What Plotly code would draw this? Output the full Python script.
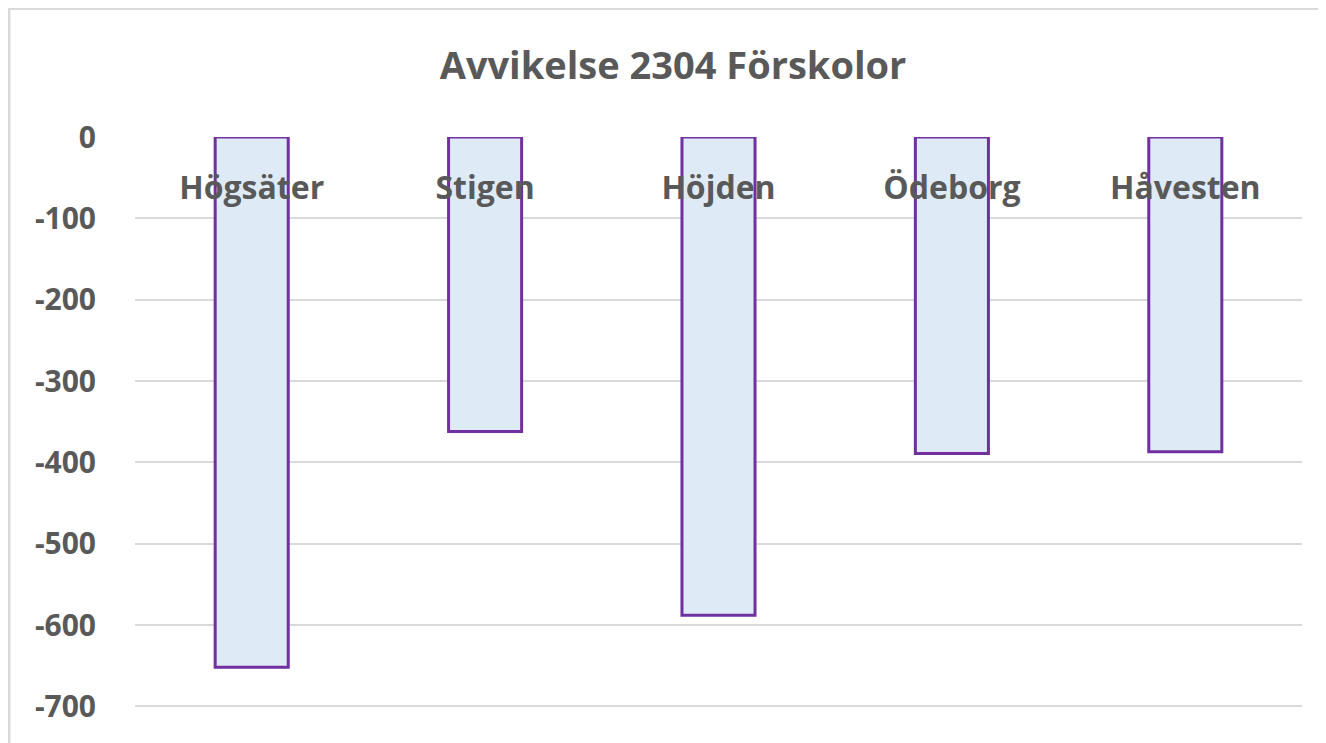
import plotly.graph_objects as go

categories = ["Högsäter", "Stigen", "Höjden", "Ödeborg", "Håvesten"]
values = [-652, -362, -588, -389, -387]
y_ticks = [0, -100, -200, -300, -400, -500, -600, -700]
y_tick_labels = ["0", "-100", "-200", "-300", "-400", "-500", "-600", "-700"]
title_text = "Avvikelse 2304 Förskolor"

# the page body has an 8px margin; the figure starts at (8, 8) in the window
OFF = 8
W, H = 1326 - OFF, 743 - OFF
L, R, T, B = 135 - OFF, 24, 137 - OFF, 0
pw, ph = W - L - R, H - T - B

FONT = "Open Sans"
GRAY = "#595959"

fig = go.Figure()
fig.add_trace(go.Bar(
    x=categories, y=values,
    marker=dict(color="#deebf7", line=dict(color="#7030a0", width=3)),
    width=0.313,
))

fig.update_layout(
    width=W, height=H,
    margin=dict(l=L, r=R, t=T, b=B, pad=0),
    paper_bgcolor="white", plot_bgcolor="white",
    showlegend=False,
    title=dict(text="<b>" + title_text + "</b>", x=(673 - OFF) / W, xanchor="center", xref="container",
               y=1 - (66 - OFF) / H, yanchor="middle", yref="container",
               font=dict(family=FONT, size=38, color=GRAY)),
    xaxis=dict(
        anchor="free", position=1, side="bottom",
        showgrid=False, showline=False, zeroline=False, ticks="",
        tickfont=dict(family=FONT, size=32, color=GRAY, weight="bold"),
        ticklabelstandoff=29,
        range=[-0.5, 4.5],
    ),
    yaxis=dict(
        range=[-745, 0], tickvals=y_ticks, ticktext=y_tick_labels,
        showgrid=True, gridcolor="#d9d9d9", gridwidth=2,
        zeroline=False, showline=False, ticks="",
        tickfont=dict(family=FONT, size=30, color=GRAY, weight="bold"),
        ticklabelstandoff=38,
    ),
    bargap=0.687,
)

# outer chart border (top and left edges visible)
fig.add_shape(type="line", xref="paper", yref="paper",
              x0=-L / pw, x1=(W + 5 - L) / pw, y0=1 + T / ph - 0.001, y1=1 + T / ph - 0.001,
              line=dict(color="#d9d9d9", width=3))
fig.add_shape(type="line", xref="paper", yref="paper",
              x0=-L / pw + 0.0008, x1=-L / pw + 0.0008, y0=1 + T / ph, y1=-0.05,
              line=dict(color="#d9d9d9", width=3))

fig.write_html("out.html")
